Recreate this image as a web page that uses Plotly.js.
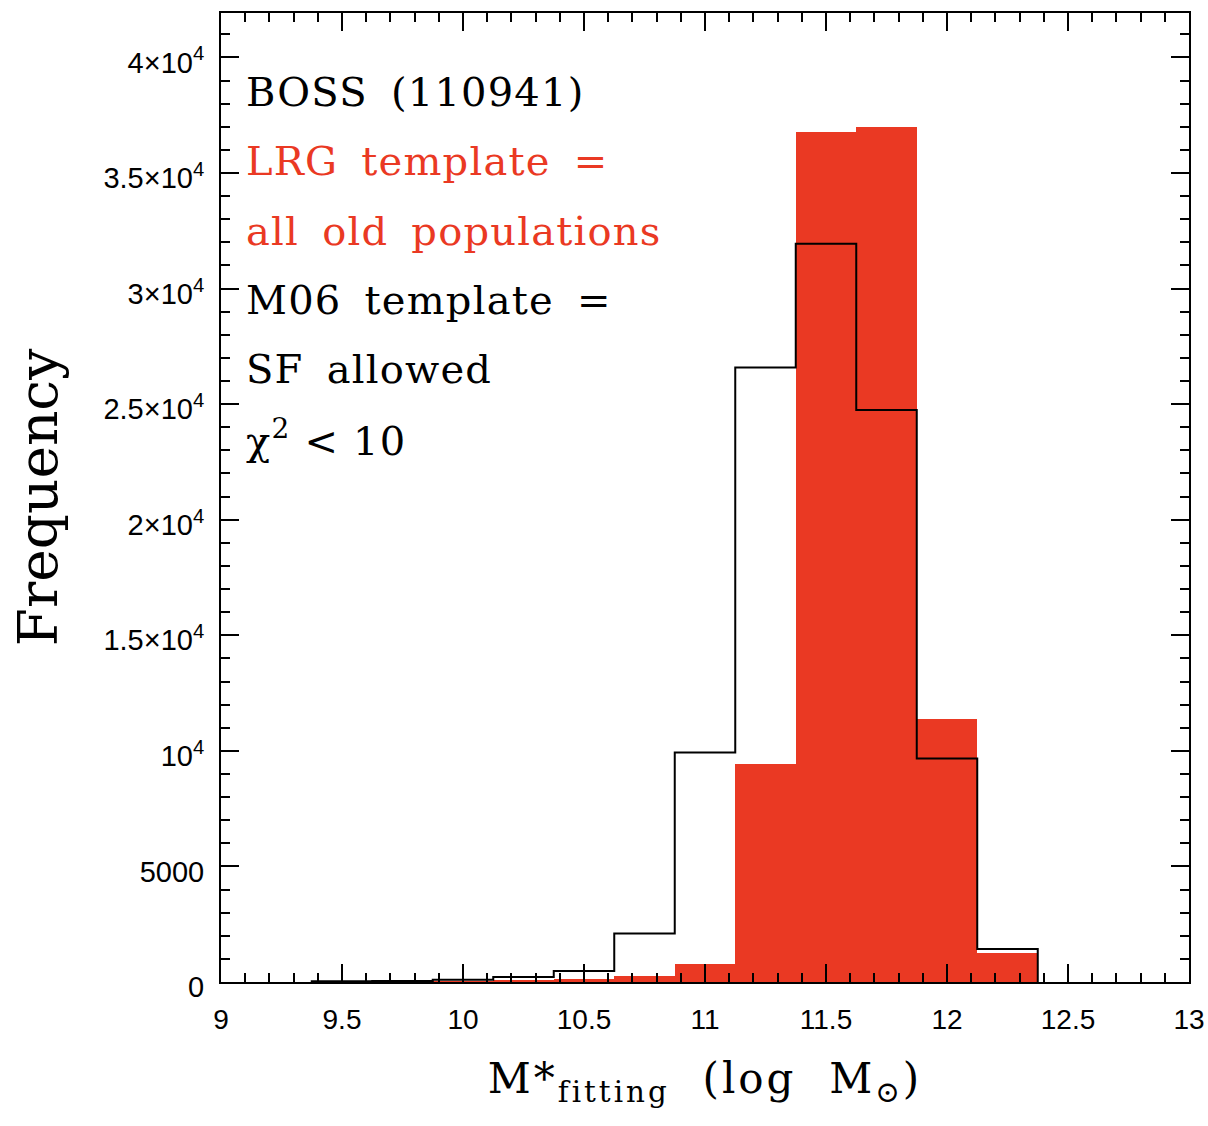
<!DOCTYPE html>
<html>
<head>
<meta charset="utf-8">
<script src="https://cdn.plot.ly/plotly-3.0.1.min.js"></script>
<style>
  html, body { margin: 0; padding: 0; background: #fff; }
  #chart { width: 1208px; height: 1126px; }
  .annotation-text { letter-spacing: 1.2px; }
  .xtitle { letter-spacing: 3px; }
</style>
</head>
<body>
<div id="chart"></div>
<script>
// Bin centres (log M*), bin width 0.25
const binCenters = [9.5, 9.75, 10.0, 10.25, 10.5, 10.75, 11.0, 11.25, 11.5, 11.75, 12.0, 12.25];
const binWidth = 0.25;
// LRG template (all old populations) - filled red
const lrgCounts = [0, 10, 25, 70, 150, 277, 766, 9424, 36770, 36990, 11370, 1270];
// M06 template (SF allowed) - black outline
const m06Counts = [30, 45, 100, 215, 476, 2095, 9930, 26580, 31935, 24750, 9670, 1430];

const yTickVals = [0, 5000, 10000, 15000, 20000, 25000, 30000, 35000, 40000];
const yTickText = ["0", "5000", "10<sup>4</sup>", "1.5×10<sup>4</sup>", "2×10<sup>4</sup>",
                   "2.5×10<sup>4</sup>", "3×10<sup>4</sup>", "3.5×10<sup>4</sup>", "4×10<sup>4</sup>"];

const SP = " \u2009"; // space plus thin space
const labelLines = [
  {text: "BOSS" + SP + "(110941)", color: "#000000"},
  {text: "LRG" + SP + "template" + SP + "=", color: "#EA3923"},
  {text: "all" + SP + "old" + SP + "populations", color: "#EA3923"},
  {text: "M06" + SP + "template" + SP + "=", color: "#000000"},
  {text: "SF" + SP + "allowed", color: "#000000"},
  {text: "χ<sup>2</sup> &lt; 10", color: "#000000"}
];

const RED = "#EA3923";
const serif = "DejaVu Serif, serif";
const sans = "Liberation Sans, Arial, sans-serif";

// Step outline built from the bin edges
const stepX = [], stepY = [];
binCenters.forEach((c, i) => {
  const left = c - binWidth / 2;
  if (i === 0) { stepX.push(left); stepY.push(0); }
  stepX.push(left); stepY.push(m06Counts[i]);
});
const lastRight = binCenters[binCenters.length - 1] + binWidth / 2;
stepX.push(lastRight); stepY.push(m06Counts[m06Counts.length - 1]);
stepX.push(lastRight); stepY.push(0);

const traces = [
  {
    type: "bar", x: binCenters, y: lrgCounts, width: binWidth,
    marker: {color: RED, line: {width: 0}}, hoverinfo: "skip"
  },
  {
    type: "scatter", mode: "lines", x: stepX, y: stepY,
    line: {color: "#000000", width: 2, shape: "hv"}, hoverinfo: "skip"
  }
];

const yMax = 41920;
const pxPerUnit = 968 / yMax; // plot height / range
const annos = labelLines.map((l, i) => ({
  x: 9.095, y: yMax - ((92 + 69.2 * i) - 13) / pxPerUnit,
  xref: "x", yref: "y", xanchor: "left", yanchor: "middle",
  text: l.text, showarrow: false,
  font: {family: serif, size: 40, color: l.color}
}));

const layout = {
  width: 1208, height: 1126,
  margin: {l: 221, r: 19, t: 13, b: 144},
  paper_bgcolor: "#ffffff", plot_bgcolor: "#ffffff",
  showlegend: false, bargap: 0,
  xaxis: {
    range: [9, 13], tickmode: "linear", tick0: 9, dtick: 0.5,
    ticks: "inside", ticklen: 18, tickwidth: 2, tickcolor: "#000",
    minor: {tickmode: "linear", tick0: 9, dtick: 0.1, ticks: "inside", ticklen: 9, tickwidth: 2, tickcolor: "#000"},
    showline: true, linewidth: 2, linecolor: "#000", mirror: "ticks",
    showgrid: false, zeroline: false,
    tickfont: {family: sans, size: 28, color: "#000"},
    ticklabelstandoff: 11,
    title: {text: "M*<sub>fitting</sub>  (log  M<sub>⊙</sub>)", font: {family: serif, size: 42, color: "#000"}, standoff: 30}
  },
  yaxis: {
    range: [0, yMax], tickmode: "array", tickvals: yTickVals, ticktext: yTickText,
    ticks: "inside", ticklen: 18, tickwidth: 2, tickcolor: "#000",
    minor: {tickmode: "linear", tick0: 0, dtick: 1000, ticks: "inside", ticklen: 9, tickwidth: 2, tickcolor: "#000"},
    showline: true, linewidth: 2, linecolor: "#000", mirror: "ticks",
    showgrid: false, zeroline: false,
    tickfont: {family: sans, size: 29, color: "#000"},
    ticklabelstandoff: 9, ticklabelshift: 5,
    title: {text: "Frequency", font: {family: serif, size: 55, color: "#000"}, standoff: 28}
  },
  annotations: annos
};

Plotly.newPlot("chart", traces, layout, {displayModeBar: false, staticPlot: true});
</script>
</body>
</html>
